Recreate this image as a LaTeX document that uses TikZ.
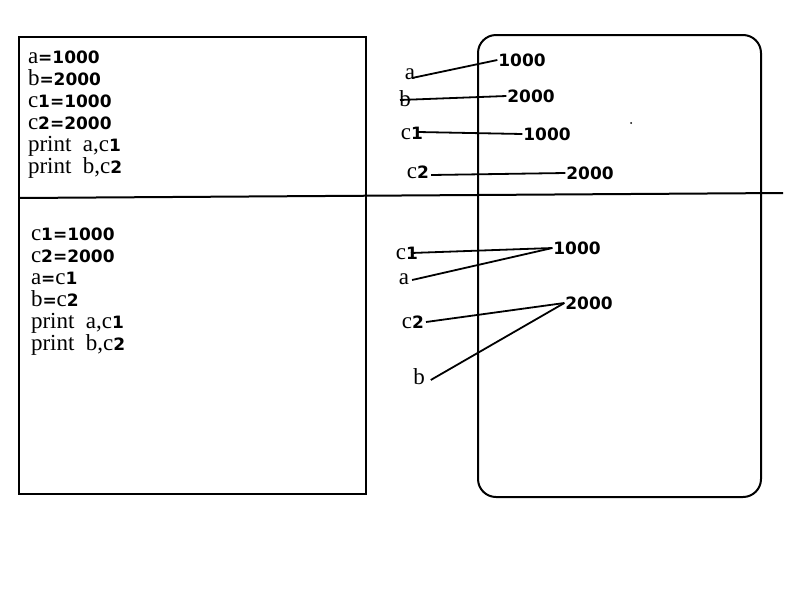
\documentclass[tikz,border=0pt]{standalone}
\usepackage{fontspec}
\setmainfont{Liberation Serif}
\newfontfamily\numfont{DejaVu Sans}[BoldFont={DejaVu Sans Bold}]
\newcommand\N[1]{{\fontsize{17}{22}\selectfont\numfont\bfseries #1}}
\begin{document}
\begin{tikzpicture}[x=1pt,y=-1pt,line width=2pt,
  code/.style={anchor=north west,inner sep=0pt,align=left,font=\fontsize{23}{22}\selectfont},
  lbl/.style={inner sep=0pt,font=\fontsize{23}{22}\selectfont},
  link/.style={line width=1.8pt}]
\useasboundingbox (0,0) rectangle (800,600);
\fill[white] (0,0) rectangle (800,600);
% left program box
\draw (19,37) rectangle (366,494);
% memory box
\draw[rounded corners=18pt] (478,35) rectangle (761,497);
% divider
\draw (19,198) -- (783,193);
\fill (631,123) circle (1pt);
% code
\node[code] (code1) at (27,50) {a\N{=1000}\\b\N{=2000}\\c\N{1=1000}\\c\N{2=2000}\\print\ \ a,c\N{1}\\print\ \ b,c\N{2}};
\node[code] (code2) at (30,227) {c\N{1=1000}\\c\N{2=2000}\\a\N{=}c\N{1}\\b\N{=}c\N{2}\\print\ \ a,c\N{1}\\print\ \ b,c\N{2}};
% top memory
\node[lbl] (ta) at (410,74) {a};
\node[lbl] (tb) at (405,99) {b};
\node[lbl] (tc1) at (412,133) {c\N{1}};
\node[lbl] (tc2) at (418,172) {c\N{2}};
\node[lbl] (tv1) at (522,60) {\N{1000}};
\node[lbl] (tv2) at (531,96) {\N{2000}};
\node[lbl] (tv3) at (547,134) {\N{1000}};
\node[lbl] (tv4) at (590,173) {\N{2000}};
\draw[link] ([shift={(2,4)}]ta.center) -- (tv1.west);
\draw[link] ([shift={(-5,1)}]tb.center) -- (tv2.west);
\draw[link] ([shift={(6,-1)}]tc1.center) -- (tv3.west);
\draw[link] ([shift={(1,3)}]tc2.east) -- (tv4.west);
% bottom memory
\node[lbl] (bc1) at (407,253) {c\N{1}};
\node[lbl] (ba) at (404,279) {a};
\node[lbl] (bc2) at (413,322) {c\N{2}};
\node[lbl] (bb) at (419,377) {b};
\node[lbl] (bv1) at (577,248) {\N{1000}};
\node[lbl] (bv2) at (589,303) {\N{2000}};
\draw[link] ([shift={(4,0)}]bc1.center) -- (bv1.west);
\draw[link] ([shift={(2,1)}]ba.east) -- (bv1.west);
\draw[link] ([shift={(1,0)}]bc2.east) -- (bv2.west);
\draw[link] ([shift={(5,3)}]bb.east) -- (bv2.west);
\end{tikzpicture}
\end{document}
